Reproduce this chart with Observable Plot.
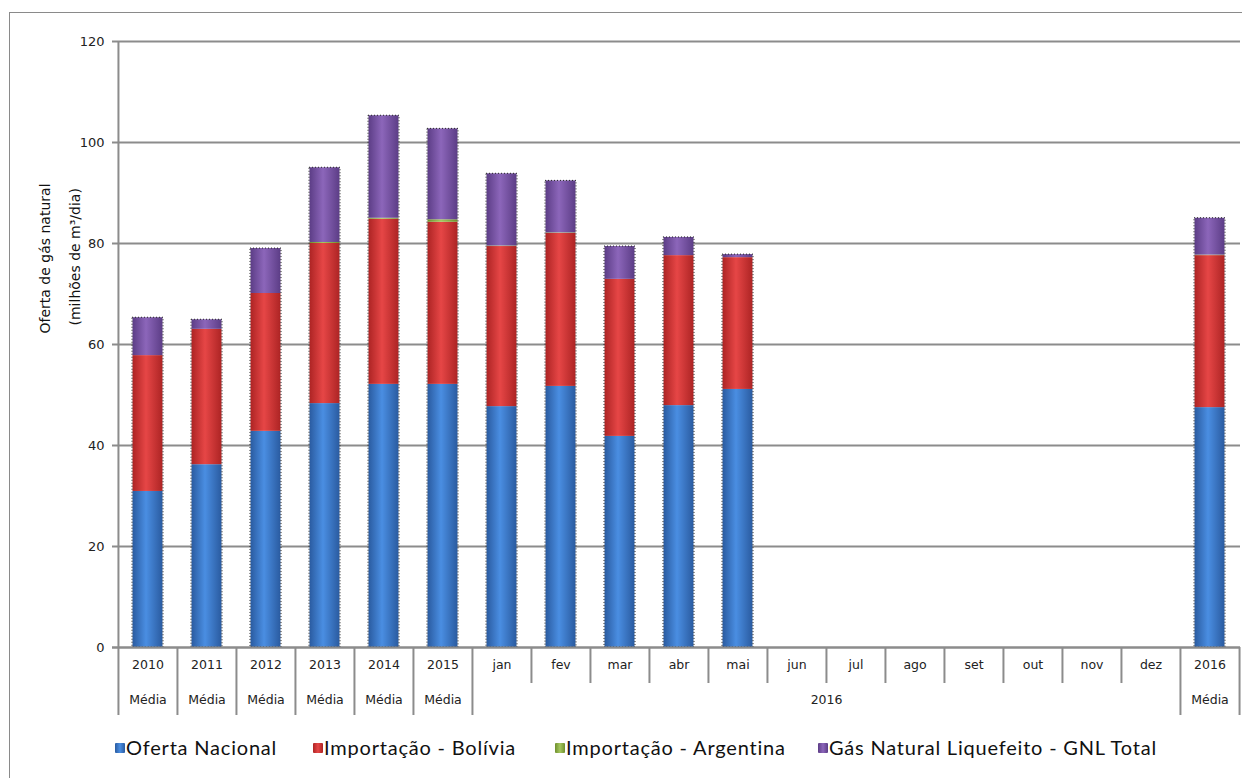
<!DOCTYPE html>
<html>
<head>
<meta charset="utf-8">
<script src="https://cdn.jsdelivr.net/npm/d3@7"></script>
<script src="https://cdn.jsdelivr.net/npm/@observablehq/plot@0.6"></script>
<style>
  html, body { margin: 0; padding: 0; background: #fff; }
  #wrap { position: relative; width: 1242px; height: 778px; overflow: hidden; background: #fff; }
  #border { position: absolute; left: 9px; top: 12px; width: 1300px; height: 800px; border: 1px solid #8a8a8a; }
  #chart { position: absolute; left: 0; top: 0; }
  #legend { position: absolute; left: 0; top: 735px; width: 1242px; height: 26px; font-family: Lato, "Liberation Sans Narrow", sans-serif; font-size: 20px; letter-spacing: 0.8px; color: #111; }
  .item { position: absolute; top: 0; white-space: nowrap; }
  .sw { position: absolute; top: 8px; width: 10px; height: 10px; border-radius: 1px; }
</style>
</head>
<body>
<div id="wrap">
  <div id="border"></div>
  <div id="chart"></div>
  <div id="legend"></div>
</div>
<script>
// ---- Data ----
const categories = ["2010","2011","2012","2013","2014","2015","jan","fev","mar","abr","mai","jun","jul","ago","set","out","nov","dez","2016M"];
const row1Labels = ["2010","2011","2012","2013","2014","2015","jan","fev","mar","abr","mai","jun","jul","ago","set","out","nov","dez","2016"];
const row2Labels = ["Média","Média","Média","Média","Média","Média",null,null,null,null,null,null,null,null,null,null,null,null,"Média"];
const groupLabel = "2016";           // label centred under the month block (jan–dez)
const groupLabelAt = "jun";          // block centre lies on the jun|jul boundary
const seriesNames = ["Oferta Nacional","Importação - Bolívia","Importação - Argentina","Gás Natural Liquefeito - GNL Total"];
const oferta    = [30.9, 36.2, 42.8, 48.3, 52.1, 52.1, 47.7, 51.7, 41.8, 47.9, 51.1, null,null,null,null,null,null,null, 47.5];
const bolivia   = [26.9, 26.8, 27.3, 31.7, 32.7, 32.1, 31.7, 30.3, 31.1, 29.7, 26.1, null,null,null,null,null,null,null, 30.1];
const argentina = [0.0,  0.0,  0.0,  0.2,  0.2,  0.5,  0.1,  0.1,  0.0,  0.0,  0.0,  null,null,null,null,null,null,null, 0.1];
const gnl       = [7.5,  1.9,  8.9,  14.8, 20.3, 18.0, 14.3, 10.3, 6.5,  3.6,  0.6,  null,null,null,null,null,null,null, 7.3];
const yTicks = [0, 20, 40, 60, 80, 100, 120];
const yLabel1 = "Oferta de gás natural";
const yLabel2 = "(milhões de m³/dia)";

// ---- Build table ----
const seriesValues = [oferta, bolivia, argentina, gnl];
const rows = [];
categories.forEach((c, i) => {
  seriesValues.forEach((vals, s) => {
    if (vals[i] != null) rows.push({cat: c, series: seriesNames[s], value: vals[i]});
  });
});
const totals = categories.map((c, i) => ({cat: c, total: seriesValues.reduce((a, v) => a + (v[i] ?? 0), 0)})).filter(d => d.total > 0);

const gradIds = ["gBlue", "gRed", "gGreen", "gPurple"];
const gradStops = [
  ["#2a5ba0", "#4a8ee2", "#2a5ba0"],
  ["#ad2424", "#e64646", "#ad2424"],
  ["#6f8f2e", "#a5c85e", "#6f8f2e"],
  ["#5c3d86", "#8c66ba", "#5c3d86"]
];

// layout constants
const W = 1242, mL = 117, mR = 2, mT = 41, H = 720, mB = 73;
const step = (W - mL - mR) / categories.length;
const row1Bottom = -7.13, row2Bottom = -13.47;
const gray = "#8c8c8c";

const longLeft = ["2010","2011","2012","2013","2014","2015","jan","2016M"];
const shortLeft = ["fev","mar","abr","mai","jun","jul","ago","set","out","nov","dez"];

const row1 = categories.map((c, i) => ({cat: c, label: row1Labels[i]}));
const row2 = categories.map((c, i) => ({cat: c, label: row2Labels[i]})).filter(d => d.label);

const plot = Plot.plot({
  width: W, height: H,
  marginLeft: mL, marginRight: mR, marginTop: mT, marginBottom: mB,
  style: {fontFamily: "DejaVu Sans, sans-serif", fontSize: "12.5px", background: "transparent"},
  x: {domain: categories, padding: 0, axis: null},
  y: {domain: [0, 120], axis: null},
  color: {domain: seriesNames, range: gradIds.map(id => `url(#${id})`)},
  marks: [
    Plot.ruleY(yTicks, {stroke: gray, strokeWidth: 2, insetLeft: -5}),
    Plot.text(yTicks, {y: d => d, text: d => String(d), frameAnchor: "left", dx: -13, textAnchor: "end", fontSize: 13, fill: "#222"}),
    Plot.barY(rows, Plot.stackY({x: "cat", y: "value", fill: "series", insetLeft: 14.5, insetRight: 14.5})),
    Plot.barY(totals, {x: "cat", y: "total", fill: "none", stroke: "#222", strokeWidth: 1, strokeDasharray: "1,2", insetLeft: 14, insetRight: 14}),
    Plot.ruleY([0], {stroke: gray, strokeWidth: 2, insetLeft: -5}),
    Plot.ruleX(longLeft, {x: d => d, y1: d => d === "2010" ? 120 : 0, y2: row2Bottom, dx: -step / 2, stroke: gray, strokeWidth: 2}),
    Plot.ruleX(["2016M"], {x: d => d, y1: 0, y2: row2Bottom, dx: step / 2, stroke: gray, strokeWidth: 2}),
    Plot.ruleX(shortLeft, {x: d => d, y1: 0, y2: row1Bottom, dx: -step / 2, stroke: gray, strokeWidth: 2}),
    Plot.text(row1, {x: "cat", y: -3.5, text: "label", fontSize: 12.5, fill: "#222"}),
    Plot.text(row2, {x: "cat", y: -10.3, text: "label", fontSize: 12.5, fill: "#222"}),
    Plot.text([groupLabel], {x: () => groupLabelAt, y: -10.3, text: d => d, dx: step / 2, fontSize: 12.5, fill: "#222"}),
    Plot.text([yLabel1], {text: d => d, frameAnchor: "left", rotate: -90, dx: -72, dy: -11, fontSize: 14, fill: "#111"}),
    Plot.text([yLabel2], {text: d => d, frameAnchor: "left", rotate: -90, dx: -42, dy: -19, fontSize: 14, fill: "#111"})
  ]
});

// gradient defs
const ns = "http://www.w3.org/2000/svg";
const defs = document.createElementNS(ns, "defs");
gradIds.forEach((id, k) => {
  const g = document.createElementNS(ns, "linearGradient");
  g.setAttribute("id", id);
  g.setAttribute("x1", "0"); g.setAttribute("x2", "1"); g.setAttribute("y1", "0"); g.setAttribute("y2", "0");
  [[0, 0], [0.45, 1], [1, 2]].forEach(([o, si]) => {
    const s = document.createElementNS(ns, "stop");
    s.setAttribute("offset", o);
    s.setAttribute("stop-color", gradStops[k][si]);
    g.appendChild(s);
  });
  defs.appendChild(g);
});
plot.insertBefore(defs, plot.firstChild);
plot.style.overflow = "visible";
plot.style.background = "transparent";
document.getElementById("chart").appendChild(plot);

// legend
const legendPos = [115, 313, 555, 818];
const legend = document.getElementById("legend");
seriesNames.forEach((name, k) => {
  const it = document.createElement("div");
  it.className = "item";
  it.style.left = legendPos[k] + "px";
  const sw = document.createElement("div");
  sw.className = "sw";
  sw.style.left = "0px";
  sw.style.background = `linear-gradient(to right, ${gradStops[k][0]}, ${gradStops[k][1]}, ${gradStops[k][2]})`;
  const tx = document.createElement("span");
  tx.textContent = name;
  tx.style.marginLeft = "11px";
  it.appendChild(sw);
  it.appendChild(tx);
  legend.appendChild(it);
});
</script>
</body>
</html>
